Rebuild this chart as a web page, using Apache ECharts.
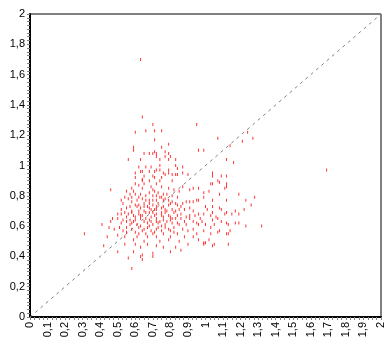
<!DOCTYPE html>
<html>
<head>
<meta charset="utf-8">
<script src="https://cdn.jsdelivr.net/npm/echarts@6/dist/echarts.min.js"></script>
<style>
  html, body { margin: 0; padding: 0; background: #fff; }
  #main { width: 389px; height: 351px; }
</style>
</head>
<body>
<div id="main"></div>
<script>
// axis ticks (labels use a decimal comma)
var xTicks = [0, 0.1, 0.2, 0.3, 0.4, 0.5, 0.6, 0.7, 0.8, 0.9, 1, 1.1, 1.2, 1.3, 1.4, 1.5, 1.6, 1.7, 1.8, 1.9, 2];
var yTicks = [0, 0.2, 0.4, 0.6, 0.8, 1, 1.2, 1.4, 1.6, 1.8, 2];

// reference line y = x
var diagonal = [[0, 0], [2, 2]];

// outliers and upper tail
var upperPoints = [
  [0.63, 1.70], [0.64, 1.32], [0.70, 1.27], [0.95, 1.27], [0.60, 1.22], [0.66, 1.23],
  [0.71, 1.23], [0.75, 1.23], [1.07, 1.18], [0.71, 1.17], [1.24, 1.22], [1.27, 1.18],
  [1.21, 1.16], [1.14, 1.13], [1.16, 1.02], [0.59, 1.12], [0.59, 1.10], [0.79, 1.14],
  [0.75, 1.12], [1.69, 0.97],
  [0.65, 1.08], [0.68, 1.08], [0.70, 1.08], [0.71, 1.09], [0.72, 1.08], [0.72, 1.06],
  [0.77, 1.09], [0.79, 1.08], [0.77, 1.06], [0.80, 1.06], [0.96, 1.10], [0.99, 1.10],
  [0.56, 1.04], [0.63, 1.04], [0.74, 1.04], [0.79, 1.04], [0.83, 1.04], [1.12, 1.04]
];

// middle band
var middlePoints = [
  [0.62, 0.99], [0.66, 0.99], [0.69, 0.99], [0.72, 0.97], [0.74, 1.00], [0.63, 0.96],
  [0.64, 0.96], [0.68, 0.96], [0.71, 0.96], [0.74, 0.97], [0.79, 0.97], [0.84, 0.98],
  [0.84, 0.94], [0.87, 0.99], [0.83, 1.00], [0.79, 0.95], [0.81, 0.94], [0.83, 0.94],
  [0.87, 0.95], [0.90, 0.94],
  [0.60, 0.92], [0.60, 0.88], [0.64, 0.90], [0.64, 0.91], [0.70, 0.93], [0.71, 0.92],
  [0.74, 0.90], [0.75, 0.92], [0.77, 0.94], [0.81, 0.90], [1.03, 0.88], [1.04, 0.93],
  [1.12, 0.93], [1.07, 0.90], [1.11, 0.85], [1.19, 0.81],
  [1.04, 0.95], [1.04, 0.88], [1.09, 0.93], [1.08, 0.89], [1.12, 0.88], [1.12, 0.86],
  [1.02, 0.83], [0.99, 0.82], [1.04, 0.77], [1.08, 0.81], [0.96, 0.77], [1.12, 0.77],
  [1.00, 0.73], [1.04, 0.73], [1.08, 0.72], [1.09, 0.71], [1.11, 0.68], [1.17, 0.70],
  [1.19, 0.68], [1.23, 0.77], [1.22, 0.71], [1.19, 0.62], [1.14, 0.57], [1.08, 0.57],
  [1.04, 0.64], [1.06, 0.66], [1.00, 0.61], [0.96, 0.61], [1.03, 0.55], [0.99, 0.49],
  [1.00, 0.49], [1.28, 0.79], [1.26, 0.74], [1.23, 0.60], [1.32, 0.60],
  [0.55, 0.83], [0.59, 0.83], [0.64, 0.85], [0.70, 0.84], [0.71, 0.83], [0.72, 0.80],
  [0.75, 0.86], [0.76, 0.81], [0.79, 0.85], [0.81, 0.80], [0.82, 0.84], [0.85, 0.83],
  [0.87, 0.86], [0.91, 0.84], [0.93, 0.85], [0.96, 0.85], [0.46, 0.84]
];

// dense core
var corePoints = [
  [0.54, 0.79], [0.56, 0.78], [0.58, 0.79], [0.61, 0.77], [0.62, 0.79], [0.64, 0.78],
  [0.66, 0.77], [0.68, 0.77], [0.70, 0.77], [0.72, 0.77], [0.74, 0.79], [0.76, 0.77],
  [0.77, 0.78], [0.79, 0.77], [0.80, 0.75], [0.83, 0.75], [0.84, 0.74], [0.87, 0.75],
  [0.89, 0.76], [0.91, 0.76], [0.93, 0.76], [0.95, 0.77], [0.99, 0.79],
  [0.53, 0.75], [0.57, 0.73], [0.60, 0.74], [0.61, 0.73], [0.63, 0.72], [0.65, 0.73],
  [0.67, 0.73], [0.69, 0.71], [0.71, 0.71], [0.72, 0.73], [0.75, 0.72], [0.77, 0.71],
  [0.81, 0.71], [0.83, 0.70], [0.85, 0.71], [0.88, 0.71], [0.91, 0.72], [0.93, 0.70],
  [0.96, 0.68], [1.01, 0.71], [1.04, 0.69],
  [0.50, 0.68], [0.52, 0.68], [0.54, 0.69], [0.56, 0.68], [0.58, 0.69], [0.59, 0.67],
  [0.62, 0.68], [0.64, 0.67], [0.66, 0.69], [0.68, 0.69], [0.71, 0.67], [0.72, 0.68],
  [0.75, 0.67], [0.77, 0.69], [0.79, 0.67], [0.80, 0.66], [0.84, 0.67], [0.86, 0.68],
  [0.89, 0.66], [0.91, 0.67], [0.94, 0.67], [0.97, 0.65], [0.99, 0.68], [1.03, 0.67],
  [1.07, 0.65], [1.12, 0.69], [1.15, 0.68],
  [0.46, 0.63], [0.47, 0.65], [0.50, 0.65], [0.53, 0.64], [0.55, 0.63], [0.57, 0.64],
  [0.59, 0.63], [0.61, 0.61], [0.63, 0.65], [0.65, 0.63], [0.67, 0.62], [0.68, 0.64],
  [0.70, 0.61], [0.72, 0.63], [0.74, 0.63], [0.76, 0.64], [0.77, 0.61], [0.80, 0.64],
  [0.81, 0.62], [0.83, 0.65], [0.85, 0.61], [0.88, 0.63], [0.89, 0.61], [0.91, 0.65],
  [0.93, 0.63], [0.95, 0.62], [0.98, 0.63], [1.05, 0.61], [1.09, 0.63], [1.12, 0.62],
  [1.13, 0.61], [1.17, 0.62],
  [0.41, 0.61], [0.45, 0.59], [0.48, 0.58], [0.51, 0.59], [0.53, 0.57], [0.55, 0.59],
  [0.58, 0.58], [0.60, 0.56], [0.62, 0.59], [0.64, 0.57], [0.67, 0.59], [0.69, 0.57],
  [0.71, 0.56], [0.73, 0.59], [0.75, 0.57], [0.77, 0.59], [0.80, 0.57], [0.82, 0.59],
  [0.84, 0.55], [0.87, 0.58], [0.90, 0.57], [0.93, 0.58], [0.95, 0.55], [0.99, 0.57],
  [1.03, 0.59], [1.07, 0.56], [1.13, 0.55]
];

// extra marks where the core is densest (vertical runs around x 0.55-0.86)
var densePoints = [
  [0.58, 0.62], [0.58, 0.70], [0.58, 0.76], [0.58, 0.85],
  [0.60, 0.64], [0.60, 0.66], [0.60, 0.81], [0.60, 0.95],
  [0.62, 0.55], [0.62, 0.70], [0.62, 0.74], [0.62, 0.87],
  [0.63, 0.60], [0.63, 0.67], [0.63, 0.81],
  [0.65, 0.58], [0.65, 0.70], [0.65, 0.75], [0.65, 0.88], [0.65, 0.93],
  [0.66, 0.55], [0.66, 0.65], [0.66, 0.80],
  [0.68, 0.60], [0.68, 0.72], [0.68, 0.75], [0.68, 0.82], [0.68, 0.90],
  [0.69, 0.63], [0.69, 0.66], [0.69, 0.86],
  [0.70, 0.55], [0.70, 0.69], [0.70, 0.74], [0.70, 0.80],
  [0.72, 0.58], [0.72, 0.65], [0.72, 0.71], [0.72, 0.88],
  [0.73, 0.62], [0.73, 0.75], [0.73, 0.82],
  [0.75, 0.60], [0.75, 0.69], [0.75, 0.79],
  [0.76, 0.55], [0.76, 0.66], [0.76, 0.73], [0.76, 0.95],
  [0.78, 0.63], [0.78, 0.70], [0.78, 0.81],
  [0.79, 0.58], [0.79, 0.74], [0.81, 0.65], [0.81, 0.76],
  [0.82, 0.69], [0.82, 0.56], [0.84, 0.62], [0.84, 0.79],
  [0.86, 0.65], [0.86, 0.73],
  [0.52, 0.62], [0.52, 0.71], [0.52, 0.77],
  [0.55, 0.66], [0.55, 0.72], [0.55, 0.56],
  [0.57, 0.61], [0.57, 0.81]
];

// lower part of the cloud
var lowerPoints = [
  [0.31, 0.55], [0.44, 0.53], [0.50, 0.54], [0.54, 0.53], [0.59, 0.51], [0.61, 0.53],
  [0.65, 0.50], [0.67, 0.53], [0.72, 0.53], [0.74, 0.50], [0.79, 0.51], [0.80, 0.53],
  [0.85, 0.50], [0.88, 0.53], [0.93, 0.53], [0.96, 0.51], [1.02, 0.51], [1.04, 0.47],
  [1.12, 0.55],
  [0.42, 0.47], [0.54, 0.48], [0.60, 0.48], [0.63, 0.46], [0.67, 0.48], [0.72, 0.47],
  [0.76, 0.46], [0.83, 0.46], [0.90, 0.48], [0.99, 0.48], [1.05, 0.48], [1.13, 0.48],
  [0.50, 0.43], [0.59, 0.43], [0.64, 0.41], [0.70, 0.42], [0.80, 0.43], [0.86, 0.44],
  [0.56, 0.39], [0.64, 0.38], [0.63, 0.40], [0.70, 0.40], [0.58, 0.32]
];

var allPoints = upperPoints.concat(middlePoints, corePoints, densePoints, lowerPoints);

function comma(v) {
  return String(Math.round(v * 10) / 10).replace('.', ',');
}

var chart = echarts.init(document.getElementById('main'), null, { renderer: 'canvas' });

var labelFont = { color: '#000', fontFamily: 'Liberation Sans, Arial, sans-serif', fontSize: 11 };

chart.setOption({
  animation: false,
  backgroundColor: '#fff',
  grid: {
    left: 30, right: 8, top: 14, bottom: 34,
    show: true, borderColor: '#000', borderWidth: 1, backgroundColor: '#fff'
  },
  xAxis: {
    type: 'value',
    min: xTicks[0], max: xTicks[xTicks.length - 1], interval: 0.1,
    axisLine: { show: true, onZero: false, lineStyle: { color: '#000', width: 2 } },
    axisTick: { show: true, length: 3, lineStyle: { color: '#808080' } },
    minorTick: { show: true, splitNumber: 4, length: 3, lineStyle: { color: '#808080' } },
    splitLine: { show: false },
    axisLabel: Object.assign({ rotate: 90, margin: 5, formatter: comma }, labelFont)
  },
  yAxis: {
    type: 'value',
    min: yTicks[0], max: yTicks[yTicks.length - 1], interval: 0.2,
    axisLine: { show: true, onZero: false, lineStyle: { color: '#000', width: 2 } },
    axisTick: { show: true, length: 3, lineStyle: { color: '#808080' } },
    minorTick: { show: true, splitNumber: 8, length: 3, lineStyle: { color: '#808080' } },
    splitLine: { show: false },
    axisLabel: Object.assign({ margin: 5, formatter: comma }, labelFont)
  },
  series: [
    {
      type: 'line',
      data: diagonal,
      symbol: 'none',
      silent: true,
      lineStyle: { color: '#808080', width: 1, type: [3, 4] },
      z: 1
    },
    {
      type: 'scatter',
      data: allPoints,
      symbol: 'rect',
      symbolSize: [1, 3],
      itemStyle: { color: '#ff0000' },
      z: 2
    }
  ]
});
</script>
</body>
</html>
